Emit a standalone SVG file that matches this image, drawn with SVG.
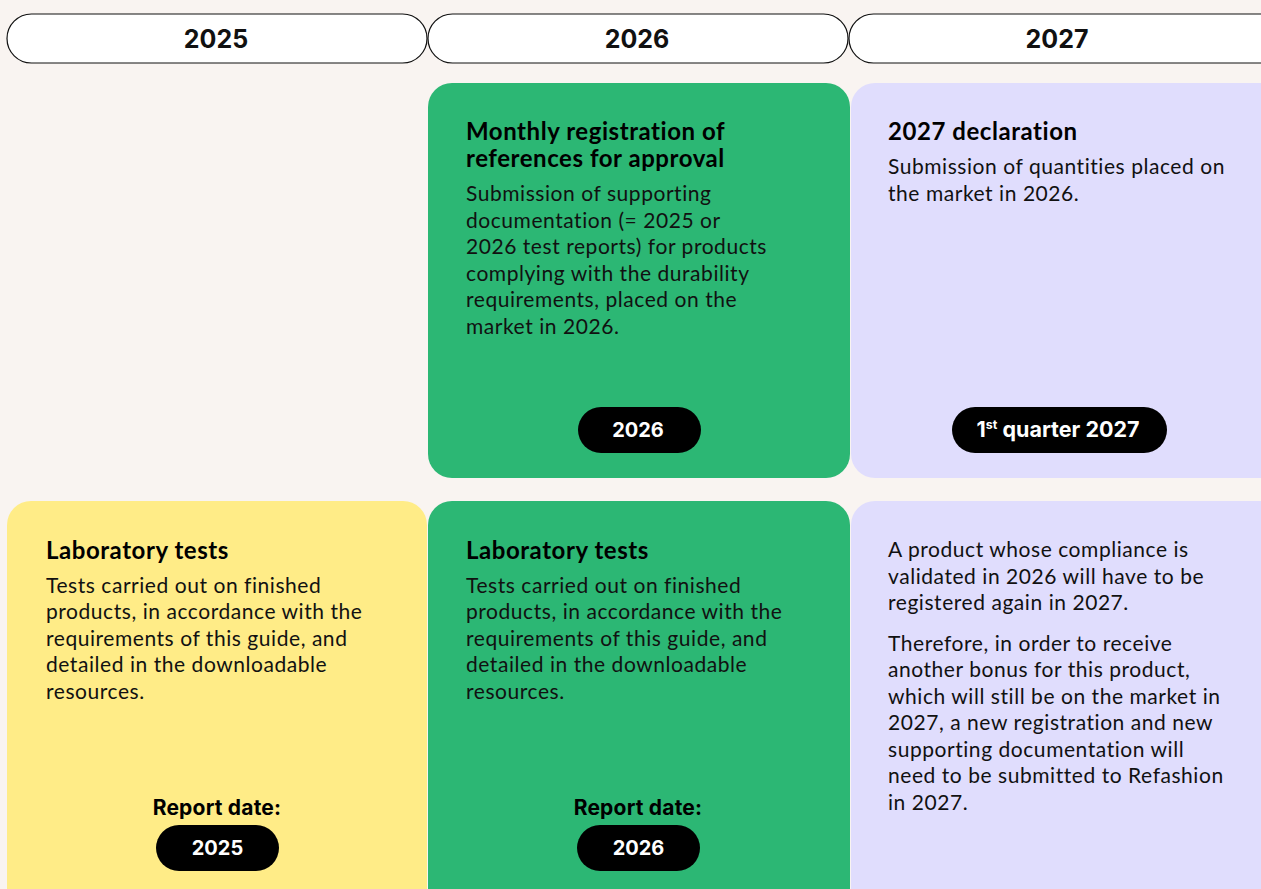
<svg xmlns="http://www.w3.org/2000/svg" width="1261" height="889" viewBox="0 0 1261 889">
<style>
.hdr{fill:#fff;stroke:#111;stroke-width:1.2}
.hdrt{font-family:Inter,"Liberation Sans",sans-serif;font-weight:700;font-size:25px;fill:#111;text-anchor:middle}
.green{fill:#2cb774}
.yellow{fill:#ffec87}
.purple{fill:#e0ddfd}
.title{font-family:Lato,"Liberation Sans",sans-serif;font-weight:700;font-size:24px;letter-spacing:0.55px;fill:#000}
.body{font-family:Lato,"Liberation Sans",sans-serif;font-size:21px;letter-spacing:0.55px;fill:#111}
.pill{fill:#000}
.pillt{font-family:Inter,"Liberation Sans",sans-serif;font-weight:700;font-size:20px;fill:#fff;text-anchor:middle}
.q{font-size:21.5px}
.sup{font-size:12.5px}
.lbl{font-family:Inter,"Liberation Sans",sans-serif;font-weight:700;font-size:21px;fill:#000;text-anchor:middle;letter-spacing:0.2px}
</style>
<rect width="1261" height="889" fill="#f9f4f1"/>
<g id="header-2025"><rect class="hdr" x="7" y="14" width="420" height="49" rx="24.5"/><text class="hdrt" x="216" y="48">2025</text></g>
<g id="header-2026"><rect class="hdr" x="428" y="14" width="420" height="49" rx="24.5"/><text class="hdrt" x="637" y="48">2026</text></g>
<g id="header-2027"><rect class="hdr" x="849" y="14" width="440" height="49" rx="24.5"/><text class="hdrt" x="1057" y="48">2027</text></g>

<g id="card-monthly-registration">
<rect class="green" x="428" y="83" width="422" height="395" rx="24"/>
<text class="title" x="466" y="140">Monthly registration of</text>
<text class="title" x="466" y="166.5">references for approval</text>
<text class="body" x="466"><tspan x="466" y="201">Submission of supporting</tspan><tspan x="466" y="227.5">documentation (= 2025 or</tspan><tspan x="466" y="254">2026 test reports) for products</tspan><tspan x="466" y="280.5">complying with the durability</tspan><tspan x="466" y="307">requirements, placed on the</tspan><tspan x="466" y="333.5">market in 2026.</tspan></text>
<rect class="pill" x="578" y="407" width="123" height="46" rx="23"/>
<text class="pillt" x="638" y="437">2026</text>
</g>

<g id="card-2027-declaration">
<rect class="purple" x="851" y="83" width="440" height="395" rx="24"/>
<text class="title" x="888" y="140">2027 declaration</text>
<text class="body"><tspan x="888" y="174">Submission of quantities placed on</tspan><tspan x="888" y="200.5">the market in 2026.</tspan></text>
<rect class="pill" x="952" y="407" width="215" height="46" rx="23"/>
<text class="pillt q" x="1058" y="437">1<tspan class="sup" dy="-8">st</tspan><tspan dy="8"> quarter 2027</tspan></text>
</g>

<g id="card-lab-tests-2025">
<rect class="yellow" x="7" y="501" width="420" height="420" rx="24"/>
<text class="title" x="46" y="559">Laboratory tests</text>
<text class="body"><tspan x="46" y="592.5">Tests carried out on finished</tspan><tspan x="46" y="619">products, in accordance with the</tspan><tspan x="46" y="645.5">requirements of this guide, and</tspan><tspan x="46" y="672">detailed in the downloadable</tspan><tspan x="46" y="698.5">resources.</tspan></text>
<text class="lbl" x="217" y="815">Report date:</text>
<rect class="pill" x="156" y="825" width="123" height="46" rx="23"/>
<text class="pillt" x="217.5" y="855">2025</text>
</g>

<g id="card-lab-tests-2026">
<rect class="green" x="428" y="501" width="422" height="420" rx="24"/>
<text class="title" x="466" y="559">Laboratory tests</text>
<text class="body"><tspan x="466" y="592.5">Tests carried out on finished</tspan><tspan x="466" y="619">products, in accordance with the</tspan><tspan x="466" y="645.5">requirements of this guide, and</tspan><tspan x="466" y="672">detailed in the downloadable</tspan><tspan x="466" y="698.5">resources.</tspan></text>
<text class="lbl" x="638" y="815">Report date:</text>
<rect class="pill" x="577" y="825" width="123" height="46" rx="23"/>
<text class="pillt" x="638.5" y="855">2026</text>
</g>

<g id="card-re-registration">
<rect class="purple" x="851" y="501" width="440" height="420" rx="24"/>
<text class="body"><tspan x="888" y="557">A product whose compliance is</tspan><tspan x="888" y="583.5">validated in 2026 will have to be</tspan><tspan x="888" y="610">registered again in 2027.</tspan><tspan x="888" y="650.5">Therefore, in order to receive</tspan><tspan x="888" y="677">another bonus for this product,</tspan><tspan x="888" y="703.5">which will still be on the market in</tspan><tspan x="888" y="730">2027, a new registration and new</tspan><tspan x="888" y="756.5">supporting documentation will</tspan><tspan x="888" y="783">need to be submitted to Refashion</tspan><tspan x="888" y="809.5">in 2027.</tspan></text>
</g>

<g id="connectors"></g>
</svg>
